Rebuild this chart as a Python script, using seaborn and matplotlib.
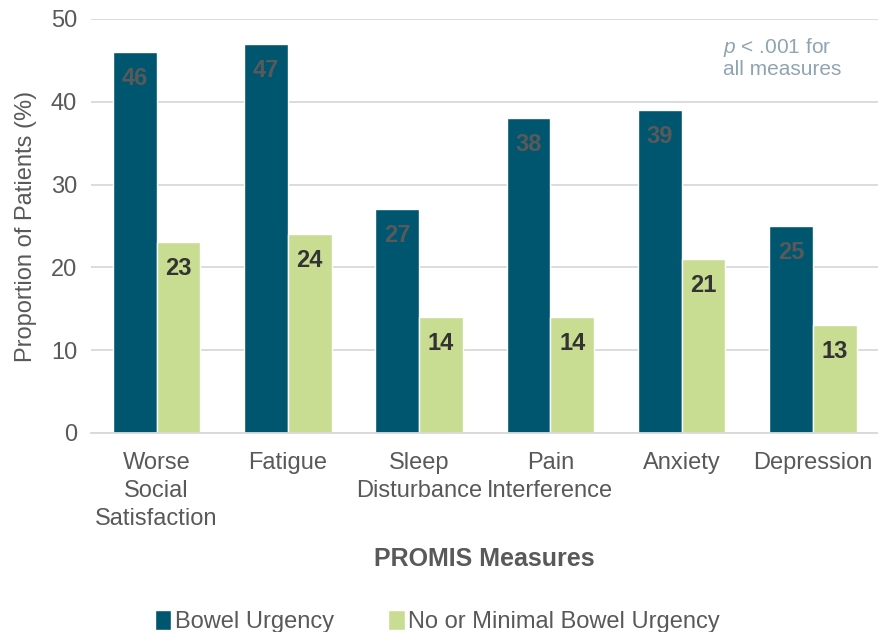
import numpy as np
import matplotlib.pyplot as plt
import seaborn as sns
import pandas as pd

# valores
measures = ['Worse\nSocial\nSatisfaction', 'Fatigue', 'Sleep\nDisturbance',
            'Pain\nInterference', 'Anxiety', 'Depression']
urgency = [46, 47, 27, 38, 39, 25]
no_urgency = [23, 24, 14, 14, 21, 13]
groups = ['Bowel Urgency', 'No or Minimal Bowel Urgency']


def build_frame():
    data = pd.DataFrame({
        'measure': measures * 2,
        'value': urgency + no_urgency,
        'group': [groups[0]] * len(measures) + [groups[1]] * len(measures),
    })
    return data


def main():
    sns.set_style('white')
    plt.rcParams['font.family'] = ['Liberation Sans', 'DejaVu Sans']
    plt.rcParams['mathtext.fontset'] = 'custom'
    plt.rcParams['mathtext.it'] = 'Liberation Sans:italic'
    plt.rcParams['mathtext.rm'] = 'Liberation Sans'

    gray = '#595959'
    fig = plt.figure(figsize=(8.79, 6.32), dpi=100)
    ax = fig.add_axes([0.1035, 0.315, 0.896, 0.655])

    data = build_frame()
    palette = {groups[0]: '#00566F', groups[1]: '#C8DD92'}
    sns.barplot(data=data, x='measure', y='value', hue='group', palette=palette,
                width=0.667, saturation=1, ax=ax, legend=True)

    # rotulos dentro das barras
    for cont, col in zip(ax.containers, [gray, '#333333']):
        for bar in cont:
            h = bar.get_height()
            ax.annotate(f'{h:.0f}', (bar.get_x() + bar.get_width() / 2, h),
                        xytext=(0, -19), textcoords='offset points',
                        ha='center', va='center', fontsize=17,
                        fontweight='bold', color=col)

    ax.set_ylim(0, 50)
    ax.set_yticks(range(0, 51, 10))
    ax.yaxis.grid(True, color='#D9D9D9', linewidth=1.3)
    ax.set_axisbelow(True)
    for s in ['top', 'right', 'left']:
        ax.spines[s].set_visible(False)
    ax.spines['bottom'].set_color('#D9D9D9')
    ax.spines['bottom'].set_linewidth(1.3)
    ax.tick_params(axis='both', labelsize=17, colors=gray, length=0, pad=10)
    ax.tick_params(axis='x', pad=14)
    for lbl in ax.get_xticklabels():
        lbl.set_linespacing(1.35)

    ax.set_ylabel('Proportion of Patients (%)', fontsize=17, color=gray, labelpad=10)
    ax.set_xlabel('PROMIS Measures', fontsize=18, fontweight='bold', color=gray, labelpad=12)

    ax.text(0.803, 0.855, '$\\it{p}$ < .001 for\nall measures', transform=ax.transAxes,
            fontsize=15, color='#8FA5B2', ha='left', va='bottom', linespacing=1.05)

    ax.legend(loc='lower center', bbox_to_anchor=(0.44, -0.535), ncol=2, frameon=False,
              fontsize=17, handlelength=0.7, handleheight=0.9, handletextpad=0.15,
              columnspacing=2.3, labelcolor=gray)

    plt.savefig('out.png', dpi=100)


if __name__ == '__main__':
    main()
